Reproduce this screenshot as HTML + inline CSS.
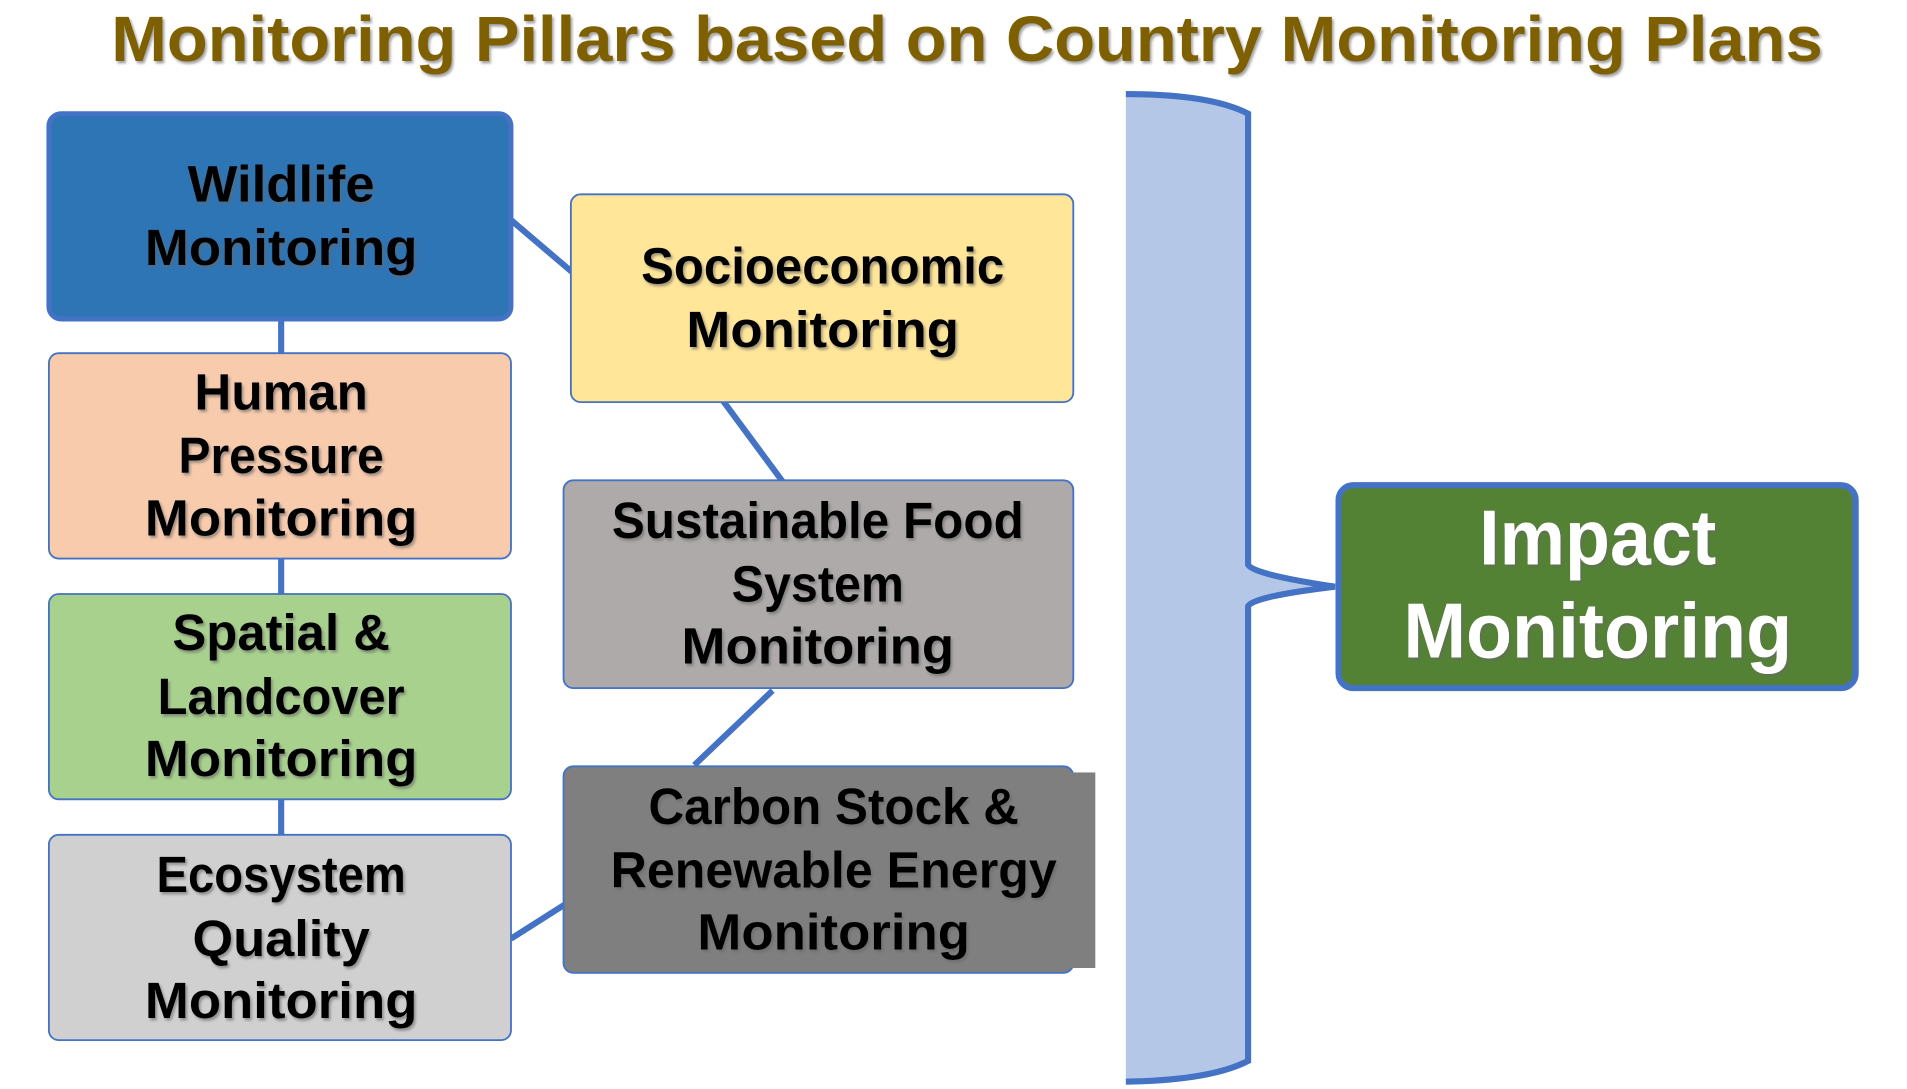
<!DOCTYPE html>
<html><head><meta charset="utf-8"><style>
html,body{margin:0;padding:0;background:#fff;width:1907px;height:1089px;overflow:hidden}
svg{display:block}
text{font-family:"Liberation Sans",sans-serif;font-weight:bold;text-anchor:middle}
</style></head><body>
<svg width="1907" height="1089" viewBox="0 0 1560 891" preserveAspectRatio="none">
<defs><filter id="sh" x="-10%" y="-10%" width="120%" height="130%"><feDropShadow dx="1.5" dy="2" stdDeviation="1" flood-color="#666" flood-opacity="0.6"/></filter></defs>
<text x="791" y="50" font-size="52" fill="#7f6000" textLength="1400" lengthAdjust="spacingAndGlyphs" filter="url(#sh)">Monitoring Pillars based on Country Monitoring Plans</text>
<g stroke="#4472c4" stroke-width="5" fill="none">
<line x1="230" y1="260" x2="230" y2="290"/><line x1="230" y1="456" x2="230" y2="487"/><line x1="230" y1="653" x2="230" y2="684"/>
<line x1="418" y1="180" x2="472" y2="226"/><line x1="590" y1="326" x2="641" y2="395"/><line x1="632" y1="565" x2="568" y2="626"/><line x1="418" y1="768" x2="470" y2="735"/>
</g>
<rect x="40" y="93" width="378" height="168" rx="10" fill="#2e75b6" stroke="#4472c4" stroke-width="4"/>
<rect x="40" y="289" width="378" height="168" rx="8" fill="#f8cbad" stroke="#4472c4" stroke-width="1.5"/>
<rect x="40" y="486" width="378" height="168" rx="8" fill="#a9d18e" stroke="#4472c4" stroke-width="1.5"/>
<rect x="40" y="683" width="378" height="168" rx="8" fill="#d0d0d0" stroke="#4472c4" stroke-width="1.5"/>
<rect x="467" y="159" width="411" height="170" rx="8" fill="#ffe699" stroke="#4472c4" stroke-width="1.5"/>
<rect x="461" y="393" width="417" height="170" rx="8" fill="#aeaaaa" stroke="#4472c4" stroke-width="1.5"/>
<rect x="461" y="627" width="417" height="169" rx="8" fill="#7f7f7f" stroke="#4472c4" stroke-width="1.5"/>
<rect x="870" y="632" width="26" height="160" fill="#7f7f7f"/>
<path d="M921,77 Q990,77 1021,93 L1021,462 Q1025,470 1090,480 Q1025,488 1021,496 L1021,868 Q990,884 921,885 Z" fill="#b4c7e7"/>
<path d="M921,77 Q990,77 1021,93 L1021,462 Q1025,470 1092,480 Q1025,488 1021,496 L1021,868 Q990,884 921,885" fill="none" stroke="#4472c4" stroke-width="5"/>
<rect x="1095" y="397" width="423" height="166" rx="12" fill="#548235" stroke="#4472c4" stroke-width="5"/>
<g font-size="42" fill="#000" filter="url(#sh)" lengthAdjust="spacingAndGlyphs">
<text x="230" y="165" textLength="153" lengthAdjust="spacingAndGlyphs">Wildlife</text><text x="230" y="217" textLength="223" lengthAdjust="spacingAndGlyphs">Monitoring</text>
<text x="230" y="335" textLength="142" lengthAdjust="spacingAndGlyphs">Human</text><text x="230" y="387" textLength="168" lengthAdjust="spacingAndGlyphs">Pressure</text><text x="230" y="438" textLength="223" lengthAdjust="spacingAndGlyphs">Monitoring</text>
<text x="230" y="532" textLength="178" lengthAdjust="spacingAndGlyphs">Spatial &amp;</text><text x="230" y="584" textLength="202" lengthAdjust="spacingAndGlyphs">Landcover</text><text x="230" y="635" textLength="223" lengthAdjust="spacingAndGlyphs">Monitoring</text>
<text x="230" y="730" textLength="204" lengthAdjust="spacingAndGlyphs">Ecosystem</text><text x="230" y="782" textLength="145" lengthAdjust="spacingAndGlyphs">Quality</text><text x="230" y="833" textLength="223" lengthAdjust="spacingAndGlyphs">Monitoring</text>
<text x="673" y="232" textLength="297" lengthAdjust="spacingAndGlyphs">Socioeconomic</text><text x="673" y="284" textLength="223" lengthAdjust="spacingAndGlyphs">Monitoring</text>
<text x="669" y="440" textLength="337" lengthAdjust="spacingAndGlyphs">Sustainable Food</text><text x="669" y="492" textLength="141" lengthAdjust="spacingAndGlyphs">System</text><text x="669" y="543" textLength="223" lengthAdjust="spacingAndGlyphs">Monitoring</text>
<text x="682" y="674" textLength="303" lengthAdjust="spacingAndGlyphs">Carbon Stock &amp;</text><text x="682" y="726" textLength="365" lengthAdjust="spacingAndGlyphs">Renewable Energy</text><text x="682" y="777" textLength="223" lengthAdjust="spacingAndGlyphs">Monitoring</text>
</g>
<g font-size="64" fill="#fff" filter="url(#sh)">
<text x="1307" y="462" textLength="194" lengthAdjust="spacingAndGlyphs">Impact</text><text x="1307" y="538" textLength="318" lengthAdjust="spacingAndGlyphs">Monitoring</text>
</g>
</svg>
</body></html>
